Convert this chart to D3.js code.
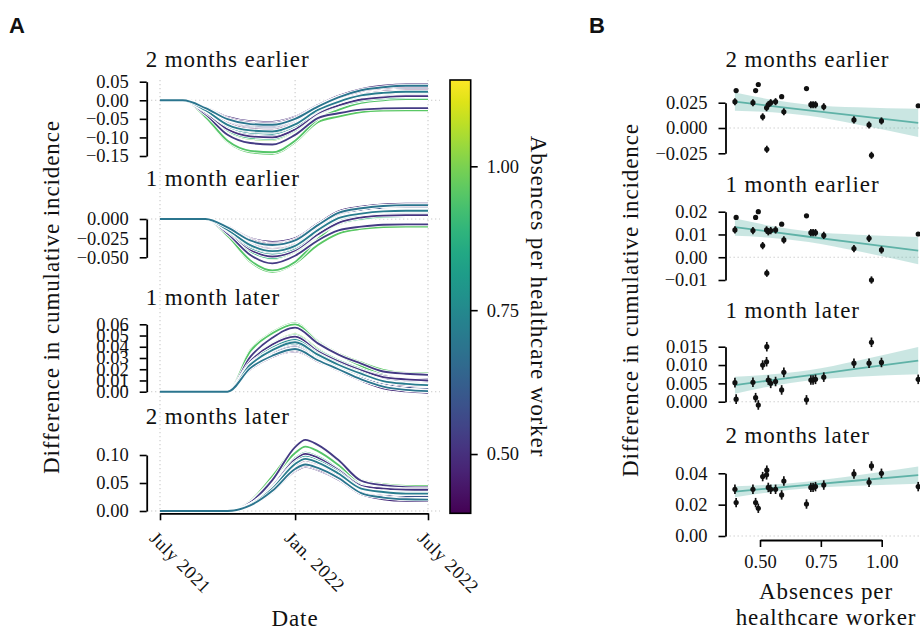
<!DOCTYPE html>
<html>
<head>
<meta charset="utf-8">
<script src="https://cdn.jsdelivr.net/npm/d3@7"></script>
<style>
  html, body { margin: 0; padding: 0; background: #fff; }
  svg text { font-family: "Liberation Serif", "Times New Roman", serif; fill: #111; }
  .big { font-size: 23px; letter-spacing: 0.9px; }
  .tick-lab { font-size: 18.5px; }
  .panel-tag { font-family: "Liberation Sans", Arial, sans-serif; font-weight: bold; font-size: 22px; }
</style>
</head>
<body>
<svg id="fig" width="920" height="631"></svg>
<script>
// ---- data -------------------------------------------------------------
// Absences per healthcare worker, one value per hospital
const absences = [0.397,0.402,0.471,0.482,0.493,0.511,0.527,0.528,0.534,0.544,0.564,0.589,
                  0.598,0.691,0.709,0.718,0.728,0.762,0.886,0.948,0.958,0.999,1.150];

const offsetTitles = ["2 months earlier", "1 month earlier", "1 month later", "2 months later"];

// Difference in cumulative incidence over time, one row per hospital
const dates2moEarlier = ["2021-07-01","2021-08-01","2021-09-01","2021-10-01","2021-11-01","2021-12-01",
                         "2022-01-01","2022-02-01","2022-03-01","2022-04-01","2022-05-01","2022-06-01","2022-07-01"];
const curves2moEarlier = [
  [0,0,-0.026,-0.062,-0.078,-0.080,-0.062,-0.024,-0.002,0.015,0.023,0.026,0.026],
  [0,0,-0.021,-0.051,-0.063,-0.065,-0.050,-0.017,0.007,0.025,0.033,0.037,0.037],
  [0,0,-0.026,-0.064,-0.080,-0.082,-0.063,-0.025,-0.003,0.014,0.022,0.025,0.025],
  [0,0,-0.020,-0.048,-0.060,-0.062,-0.047,-0.016,0.008,0.025,0.033,0.037,0.037],
  [0,0,-0.019,-0.045,-0.056,-0.058,-0.044,-0.013,0.012,0.030,0.039,0.043,0.043],
  [0,0,-0.032,-0.078,-0.097,-0.100,-0.078,-0.035,-0.014,0.002,0.008,0.011,0.011],
  [0,0,-0.028,-0.069,-0.085,-0.088,-0.068,-0.029,-0.007,0.010,0.017,0.020,0.020],
  [0,0,-0.038,-0.093,-0.115,-0.119,-0.093,-0.048,-0.035,-0.025,-0.022,-0.021,-0.021],
  [0,0,-0.027,-0.066,-0.082,-0.085,-0.066,-0.027,-0.004,0.012,0.020,0.023,0.023],
  [0,0,-0.025,-0.061,-0.076,-0.078,-0.060,-0.024,-0.002,0.015,0.022,0.025,0.025],
  [0,0,-0.024,-0.059,-0.074,-0.076,-0.058,-0.023,-0.001,0.016,0.023,0.026,0.026],
  [0,0,-0.022,-0.055,-0.068,-0.070,-0.054,-0.020,0.003,0.020,0.027,0.031,0.031],
  [0,0,-0.030,-0.074,-0.092,-0.095,-0.074,-0.032,-0.010,0.006,0.013,0.016,0.016],
  [0,0,-0.021,-0.051,-0.064,-0.066,-0.050,-0.017,0.008,0.027,0.035,0.039,0.039],
  [0,0,-0.027,-0.066,-0.081,-0.084,-0.065,-0.026,-0.004,0.013,0.020,0.023,0.023],
  [0,0,-0.028,-0.067,-0.083,-0.086,-0.066,-0.027,-0.005,0.012,0.020,0.023,0.023],
  [0,0,-0.027,-0.065,-0.081,-0.083,-0.064,-0.026,-0.004,0.013,0.020,0.023,0.023],
  [0,0,-0.029,-0.070,-0.087,-0.090,-0.070,-0.029,-0.006,0.011,0.018,0.021,0.021],
  [0,0,-0.033,-0.081,-0.101,-0.104,-0.081,-0.037,-0.016,-0.001,0.005,0.008,0.008],
  [0,0,-0.045,-0.109,-0.136,-0.140,-0.109,-0.051,-0.026,-0.007,0.000,0.003,0.003],
  [0,0,-0.046,-0.112,-0.140,-0.144,-0.113,-0.059,-0.044,-0.032,-0.028,-0.027,-0.027],
  [0,0,-0.034,-0.083,-0.104,-0.107,-0.083,-0.038,-0.018,-0.002,0.004,0.007,0.007],
  [0,0,-0.028,-0.069,-0.085,-0.088,-0.068,-0.028,-0.006,0.011,0.019,0.022,0.022]
];

const dates1moEarlier = ["2021-07-01","2021-09-01","2021-10-01","2021-11-01","2021-12-01","2022-01-01",
                         "2022-02-01","2022-03-01","2022-04-01","2022-05-01","2022-06-01","2022-07-01"];
const curves1moEarlier = [
  [0,0,-0.013,-0.033,-0.040,-0.033,-0.013,0.002,0.008,0.011,0.012,0.012],
  [0,0,-0.011,-0.027,-0.033,-0.027,-0.008,0.007,0.014,0.017,0.0175,0.0175],
  [0,0,-0.013,-0.034,-0.041,-0.034,-0.014,0.002,0.008,0.011,0.0117,0.0117],
  [0,0,-0.011,-0.026,-0.032,-0.027,-0.008,0.008,0.014,0.017,0.0175,0.0175],
  [0,0,-0.010,-0.025,-0.030,-0.025,-0.006,0.010,0.016,0.019,0.020,0.020],
  [0,0,-0.016,-0.040,-0.049,-0.041,-0.020,-0.005,0.002,0.0045,0.0051,0.0051],
  [0,0,-0.014,-0.036,-0.044,-0.037,-0.015,0.001,0.008,0.011,0.012,0.012],
  [0,0,-0.019,-0.047,-0.058,-0.048,-0.028,-0.015,-0.010,-0.0075,-0.007,-0.007],
  [0,0,-0.014,-0.034,-0.042,-0.035,-0.014,0.001,0.0075,0.011,0.0112,0.0112],
  [0,0,-0.013,-0.032,-0.039,-0.033,-0.013,0.002,0.008,0.011,0.0117,0.0117],
  [0,0,-0.012,-0.031,-0.038,-0.032,-0.012,0.002,0.0085,0.011,0.012,0.012],
  [0,0,-0.012,-0.030,-0.036,-0.030,-0.010,0.005,0.011,0.014,0.0145,0.0145],
  [0,0,-0.015,-0.038,-0.047,-0.039,-0.018,-0.0025,0.004,0.007,0.0076,0.0076],
  [0,0,-0.011,-0.028,-0.034,-0.028,-0.008,0.008,0.014,0.017,0.0182,0.0182],
  [0,0,-0.014,-0.034,-0.042,-0.035,-0.0145,0.001,0.007,0.010,0.0108,0.0108],
  [0,0,-0.014,-0.035,-0.043,-0.036,-0.015,0.0006,0.007,0.010,0.0108,0.0108],
  [0,0,-0.013,-0.034,-0.041,-0.034,-0.014,0.001,0.007,0.010,0.0108,0.0108],
  [0,0,-0.015,-0.037,-0.045,-0.038,-0.016,-0.0006,0.006,0.009,0.0096,0.0096],
  [0,0,-0.017,-0.042,-0.051,-0.042,-0.021,-0.006,0.0003,0.0032,0.0038,0.0038],
  [0,0,-0.022,-0.054,-0.067,-0.056,-0.026,-0.005,0.003,0.007,0.0083,0.0083],
  [0,0,-0.022,-0.056,-0.069,-0.058,-0.034,-0.019,-0.013,-0.0105,-0.010,-0.010],
  [0,0,-0.017,-0.042,-0.052,-0.043,-0.022,-0.007,-0.0003,0.0026,0.0032,0.0032],
  [0,0,-0.014,-0.036,-0.044,-0.037,-0.016,0.000,0.0065,0.0095,0.0102,0.0102]
];

const dates1moLater = ["2021-07-01","2021-10-01","2021-11-01","2021-12-01","2022-01-01","2022-02-01",
                       "2022-03-01","2022-04-01","2022-05-01","2022-06-01","2022-07-01"];
const curves1moLater = [
  [0,0,0.024,0.037,0.043,0.032,0.023,0.015,0.009,0.006,0.0052],
  [0,0,0.021,0.032,0.038,0.028,0.020,0.011,0.005,0.002,0.0007],
  [0,0,0.024,0.037,0.0435,0.032,0.023,0.015,0.009,0.006,0.0053],
  [0,0,0.020,0.031,0.037,0.027,0.020,0.011,0.005,0.002,0.0011],
  [0,0,0.020,0.031,0.036,0.027,0.019,0.010,0.003,0.0003,-0.0009],
  [0,0,0.027,0.042,0.049,0.036,0.027,0.019,0.013,0.011,0.0100],
  [0,0,0.025,0.038,0.045,0.033,0.025,0.019,0.014,0.011,0.0109],
  [0,0,0.031,0.048,0.057,0.043,0.033,0.025,0.018,0.016,0.0150],
  [0,0,0.024,0.037,0.044,0.033,0.024,0.016,0.0095,0.007,0.0059],
  [0,0,0.023,0.036,0.042,0.031,0.023,0.015,0.009,0.006,0.0050],
  [0,0,0.0225,0.035,0.041,0.030,0.022,0.015,0.009,0.006,0.0055],
  [0,0,0.022,0.034,0.040,0.030,0.0215,0.013,0.007,0.004,0.0032],
  [0,0,0.026,0.040,0.047,0.035,0.026,0.018,0.0115,0.009,0.0080],
  [0,0,0.021,0.032,0.038,0.028,0.020,0.011,0.0046,0.0016,0.0005],
  [0,0,0.024,0.037,0.044,0.033,0.024,0.016,0.0095,0.007,0.0059],
  [0,0,0.0245,0.0375,0.0445,0.033,0.024,0.016,0.0095,0.007,0.0059],
  [0,0,0.024,0.037,0.043,0.032,0.023,0.015,0.0095,0.007,0.0061],
  [0,0,0.025,0.039,0.046,0.034,0.025,0.017,0.010,0.0076,0.0067],
  [0,0,0.0275,0.0425,0.050,0.037,0.028,0.020,0.014,0.011,0.0105],
  [0,0,0.036,0.052,0.060,0.044,0.033,0.023,0.015,0.0115,0.0105],
  [0,0,0.037,0.053,0.061,0.045,0.034,0.026,0.0195,0.0167,0.0162],
  [0,0,0.028,0.043,0.051,0.038,0.028,0.020,0.014,0.011,0.0107],
  [0,0,0.025,0.038,0.045,0.033,0.024,0.016,0.010,0.007,0.0061]
];

const dates2moLater = ["2021-07-01","2021-10-01","2021-11-01","2021-12-01","2022-01-01","2022-01-15",
                       "2022-02-01","2022-03-01","2022-04-01","2022-05-01","2022-06-01","2022-07-01"];
const curves2moLater = [
  [0,0,0.011,0.039,0.082,0.091,0.085,0.065,0.039,0.033,0.030,0.0298],
  [0,0,0.010,0.036,0.075,0.083,0.077,0.059,0.033,0.025,0.022,0.0213],
  [0,0,0.011,0.040,0.083,0.092,0.086,0.066,0.039,0.033,0.030,0.0298],
  [0,0,0.010,0.035,0.073,0.081,0.075,0.058,0.032,0.025,0.022,0.0213],
  [0,0,0.0095,0.034,0.071,0.079,0.073,0.056,0.030,0.021,0.018,0.0177],
  [0,0,0.012,0.044,0.092,0.102,0.095,0.073,0.045,0.040,0.038,0.0379],
  [0,0,0.0115,0.041,0.086,0.096,0.089,0.069,0.044,0.041,0.039,0.039],
  [0,0,0.015,0.055,0.114,0.127,0.118,0.091,0.054,0.046,0.0425,0.042],
  [0,0,0.011,0.040,0.085,0.094,0.087,0.067,0.040,0.034,0.031,0.031],
  [0,0,0.011,0.039,0.081,0.090,0.084,0.0645,0.038,0.0325,0.030,0.0298],
  [0,0,0.0107,0.038,0.080,0.089,0.083,0.064,0.038,0.032,0.030,0.0298],
  [0,0,0.010,0.037,0.077,0.086,0.080,0.0615,0.036,0.029,0.0266,0.0262],
  [0,0,0.012,0.043,0.089,0.099,0.092,0.071,0.043,0.038,0.0354,0.0351],
  [0,0,0.010,0.036,0.075,0.083,0.077,0.059,0.032,0.024,0.021,0.0204],
  [0,0,0.011,0.040,0.084,0.093,0.0865,0.067,0.040,0.034,0.031,0.031],
  [0,0,0.011,0.040,0.085,0.094,0.087,0.067,0.040,0.034,0.031,0.031],
  [0,0,0.011,0.040,0.084,0.093,0.0865,0.067,0.040,0.034,0.032,0.0315],
  [0,0,0.012,0.042,0.087,0.097,0.090,0.070,0.0415,0.035,0.033,0.0325],
  [0,0,0.0125,0.045,0.094,0.104,0.097,0.075,0.0465,0.042,0.040,0.0396],
  [0,0,0.016,0.056,0.1035,0.115,0.107,0.082,0.047,0.038,0.035,0.0343],
  [0,0,0.018,0.062,0.113,0.126,0.117,0.090,0.055,0.048,0.045,0.0447],
  [0,0,0.012,0.044,0.093,0.103,0.096,0.074,0.046,0.042,0.040,0.040],
  [0,0,0.0115,0.041,0.086,0.096,0.089,0.069,0.041,0.0345,0.032,0.0315]
];

// Uncertainty (half-width) of each hospital's final difference
const err2moEarlier = [0.0035,0.0012,0.0035,0.0012,0.0012,0.0035,0.0035,0.0035,0.0035,0.0035,0.0035,0.0012,
                       0.0035,0.0012,0.0035,0.0035,0.0035,0.0035,0.0035,0.0035,0.0035,0.0035,0.0012];
const err1moEarlier = [0.0016,0.0006,0.0016,0.0006,0.0006,0.0016,0.0016,0.0016,0.0016,0.0016,0.0016,0.0006,
                       0.0016,0.0006,0.0016,0.0016,0.0016,0.0016,0.0016,0.0016,0.0016,0.0016,0.0006];
const err1moLater   = [0.0013,0.0013,0.0013,0.0013,0.0013,0.0013,0.0013,0.0013,0.0013,0.0013,0.0013,0.0013,
                       0.0013,0.0013,0.0013,0.0013,0.0013,0.0013,0.0013,0.0013,0.0013,0.0013,0.0013];
const err2moLater   = [0.003,0.003,0.003,0.003,0.003,0.003,0.003,0.003,0.003,0.003,0.003,0.003,
                       0.003,0.003,0.003,0.003,0.003,0.003,0.003,0.003,0.003,0.003,0.003];

// Linear trend with its confidence band, sampled along the absence axis
const trendX = [0.397, 0.55, 0.70, 0.90, 1.150];
const trendMid = [
  [0.0260, 0.0217, 0.0175, 0.0119, 0.0050],
  [0.0132, 0.0111, 0.0090, 0.0063, 0.0029],
  [0.0045, 0.0059, 0.0072, 0.0090, 0.0112],
  [0.0283, 0.0305, 0.0326, 0.0354, 0.0389]
];
const trendLow = [
  [0.0170, 0.0155, 0.0120, 0.0034, -0.0090],
  [0.0094, 0.0085, 0.0067, 0.0027, -0.0031],
  [0.0022, 0.0043, 0.0058, 0.0068, 0.0075],
  [0.0248, 0.0281, 0.0304, 0.0321, 0.0334]
];
const trendHigh = [
  [0.0350, 0.0279, 0.0230, 0.0204, 0.0190],
  [0.0170, 0.0137, 0.0113, 0.0099, 0.0089],
  [0.0068, 0.0075, 0.0086, 0.0112, 0.0149],
  [0.0318, 0.0329, 0.0348, 0.0387, 0.0444]
];

// Tick values
const dateTicks = ["2021-07-01", "2022-01-01", "2022-07-01"];
const dateTickLabels = ["July 2021", "Jan. 2022", "July 2022"];
const ticksA = [
  [-0.15, -0.10, -0.05, 0.00, 0.05],
  [-0.050, -0.025, 0.000],
  [0.00, 0.01, 0.02, 0.03, 0.04, 0.05, 0.06],
  [0.00, 0.05, 0.10]
];
const ticksB = [
  [-0.025, 0.000, 0.025],
  [-0.01, 0.00, 0.01, 0.02],
  [0.000, 0.005, 0.010, 0.015],
  [0.00, 0.02, 0.04]
];
const ticksAbsences = [0.50, 0.75, 1.00];

// ---- drawing ----------------------------------------------------------
const parse = d3.timeParse("%Y-%m-%d");
const svg = d3.select("#fig");

const fmtA = [d3.format(".2f"), d3.format(".3f"), d3.format(".2f"), d3.format(".2f")];
const fmtB = [d3.format(".3f"), d3.format(".2f"), d3.format(".3f"), d3.format(".2f")];

const panels = [
  { dates: dates2moEarlier, curves: curves2moEarlier, err: err2moEarlier },
  { dates: dates1moEarlier, curves: curves1moEarlier, err: err1moEarlier },
  { dates: dates1moLater,   curves: curves1moLater,   err: err1moLater },
  { dates: dates2moLater,   curves: curves2moLater,   err: err2moLater }
];

// pixel layout of the stacked axes
const rangeA = [[156, 81.7], [257.3, 219], [391.7, 324.3], [511, 455]];
const titleYA = [67, 185.5, 305, 424];
const rangeB = [[153.3, 102.7], [280, 211.7], [401.7, 346.7], [536, 473.3]];
const titleYB = [66.7, 192, 317.5, 443];

const spineA = 146.7, spineB = 725.5;
const xTime = d3.scaleTime()
  .domain([parse(dateTicks[0]), parse(dateTicks[2])])
  .range([160, 428]);
const xAbs = d3.scaleLinear().domain([0.5, 1.0]).range([760, 881.7]);
const color = d3.scaleSequential(d3.interpolateViridis).domain(d3.extent(absences));

const gridColor = "#c9c9c9";

function styleAxis(g) {
  g.attr("font-family", null).attr("font-size", null);
  g.select(".domain").attr("stroke", "#000").attr("stroke-width", 1.8);
  g.selectAll(".tick line").attr("stroke", "#000").attr("stroke-width", 1.6);
  g.selectAll(".tick text").attr("class", "tick-lab").attr("fill", "#111");
}

// panel tags
svg.append("text").attr("class", "panel-tag").attr("x", 9).attr("y", 33).text("A");
svg.append("text").attr("class", "panel-tag").attr("x", 589).attr("y", 33).text("B");

// ---------- panel A ----------
const gA = svg.append("g");

// vertical dotted grid at the date ticks
gA.selectAll("line.vgrid").data(dateTicks).enter().append("line")
  .attr("x1", d => xTime(parse(d))).attr("x2", d => xTime(parse(d)))
  .attr("y1", 80).attr("y2", 511)
  .attr("stroke", gridColor).attr("stroke-width", 1.1).attr("stroke-dasharray", "1.3,2.7");

// stacking order of the series: high absences underneath, mid-range (teal) on top
const n = absences.length;
const midBand = i => absences[i] > 0.65 && absences[i] < 0.8;
const order = d3.range(n).sort((a, b) => (midBand(a) - midBand(b)) || (absences[b] - absences[a]));

panels.forEach((p, k) => {
  const y = d3.scaleLinear().domain(d3.extent(ticksA[k])).range(rangeA[k]);
  const g = gA.append("g");

  g.append("line").attr("x1", 147).attr("x2", 440).attr("y1", y(0)).attr("y2", y(0))
    .attr("stroke", gridColor).attr("stroke-width", 1.1).attr("stroke-dasharray", "1.3,2.7");

  const dts = p.dates.map(parse);
  const line = d3.line().x((d, i) => xTime(dts[i])).y(d => y(d)).curve(d3.curveMonotoneX);

  order.forEach(i => {
    g.append("path").attr("d", line(p.curves[i])).attr("fill", "none")
      .attr("stroke", "#fff").attr("stroke-width", 3.6).attr("stroke-linejoin", "round");
    g.append("path").attr("d", line(p.curves[i])).attr("fill", "none")
      .attr("stroke", color(absences[i])).attr("stroke-width", 1.85).attr("stroke-linejoin", "round");
  });

  const ax = g.append("g").attr("transform", `translate(${spineA},0)`)
    .call(d3.axisLeft(y).tickValues(ticksA[k]).tickFormat(fmtA[k]).tickSize(7).tickSizeOuter(0).tickPadding(11));
  styleAxis(ax);

  g.append("text").attr("class", "big").attr("x", spineA - 1).attr("y", titleYA[k]).text(offsetTitles[k]);
});

// date axis
const axT = gA.append("g").attr("transform", "translate(0,513.3)")
  .call(d3.axisBottom(xTime).tickValues(dateTicks.map(parse)).tickFormat((d, i) => dateTickLabels[i])
        .tickSize(7).tickSizeOuter(0));
styleAxis(axT);
axT.selectAll(".tick text")
  .attr("x", 0).attr("y", 0).attr("dy", 0)
  .attr("text-anchor", "start")
  .attr("transform", "translate(-12,26) rotate(45)")
  .style("letter-spacing", "0.6px");

gA.append("text").attr("class", "big").attr("text-anchor", "middle")
  .attr("x", 295).attr("y", 626).text("Date");
gA.append("text").attr("class", "big").attr("text-anchor", "middle")
  .attr("transform", "translate(58.5,297) rotate(-90)")
  .text("Difference in cumulative incidence");

// colour bar
const cbX = 450, cbW = 20.7;
const yCb = d3.scaleLinear().domain(d3.extent(absences)).range([513.3, 80]);
const grad = svg.append("defs").append("linearGradient").attr("id", "viridisGrad")
  .attr("x1", 0).attr("y1", 1).attr("x2", 0).attr("y2", 0);
d3.range(0, 1.0001, 0.05).forEach(t => {
  grad.append("stop").attr("offset", t).attr("stop-color", d3.interpolateViridis(t));
});
svg.append("rect").attr("x", cbX).attr("y", 80).attr("width", cbW).attr("height", 433.3)
  .attr("fill", "url(#viridisGrad)").attr("stroke", "#000").attr("stroke-width", 1.6);
const axCb = svg.append("g").attr("transform", `translate(${cbX + cbW},0)`)
  .call(d3.axisRight(yCb).tickValues(ticksAbsences).tickFormat(d3.format(".2f")).tickSize(7).tickSizeOuter(0).tickPadding(9));
styleAxis(axCb);
axCb.select(".domain").remove();
svg.append("text").attr("class", "big").attr("text-anchor", "middle")
  .attr("transform", "translate(531,296.5) rotate(90)")
  .text("Absences per healthcare worker");

// ---------- panel B ----------
const gB = svg.append("g");
panels.forEach((p, k) => {
  const y = d3.scaleLinear().domain(d3.extent(ticksB[k])).range(rangeB[k]);
  const g = gB.append("g");

  g.append("line").attr("x1", spineB).attr("x2", 920).attr("y1", y(0)).attr("y2", y(0))
    .attr("stroke", gridColor).attr("stroke-width", 1.1).attr("stroke-dasharray", "1.3,2.7");

  const band = trendX.map((x, i) => ({ x, lo: trendLow[k][i], hi: trendHigh[k][i], mid: trendMid[k][i] }));
  g.append("path")
    .attr("d", d3.area().x(d => xAbs(d.x)).y0(d => y(d.lo)).y1(d => y(d.hi)).curve(d3.curveMonotoneX)(band))
    .attr("fill", "#5fb2a7").attr("fill-opacity", 0.33);
  g.append("path")
    .attr("d", d3.line().x(d => xAbs(d.x)).y(d => y(d.mid))(band))
    .attr("fill", "none").attr("stroke", "#5fb2a7").attr("stroke-width", 1.8);

  // final difference per hospital = last value of its curve in panel A
  const finals = p.curves.map(r => r[r.length - 1]);
  finals.forEach((v, i) => {
    const cx = xAbs(absences[i]);
    g.append("line").attr("x1", cx).attr("x2", cx)
      .attr("y1", y(v - p.err[i])).attr("y2", y(v + p.err[i]))
      .attr("stroke", "#111").attr("stroke-width", 1.7);
    g.append("circle").attr("cx", cx).attr("cy", y(v)).attr("r", 2.6).attr("fill", "#111");
  });

  const ax = g.append("g").attr("transform", `translate(${spineB},0)`)
    .call(d3.axisLeft(y).tickValues(ticksB[k]).tickFormat(fmtB[k]).tickSize(7).tickSizeOuter(0).tickPadding(11));
  styleAxis(ax);

  g.append("text").attr("class", "big").attr("x", spineB).attr("y", titleYB[k]).text(offsetTitles[k]);
});

const axAbs = gB.append("g").attr("transform", "translate(0,540)")
  .call(d3.axisBottom(xAbs).tickValues(ticksAbsences).tickFormat(d3.format(".2f")).tickSize(7).tickSizeOuter(0).tickPadding(8));
styleAxis(axAbs);

gB.append("text").attr("class", "big").attr("text-anchor", "middle")
  .attr("x", 826).attr("y", 598.5).text("Absences per");
gB.append("text").attr("class", "big").attr("text-anchor", "middle")
  .attr("x", 826).attr("y", 625).text("healthcare worker");
gB.append("text").attr("class", "big").attr("text-anchor", "middle")
  .attr("transform", "translate(637.5,300) rotate(-90)")
  .text("Difference in cumulative incidence");
</script>
</body>
</html>
